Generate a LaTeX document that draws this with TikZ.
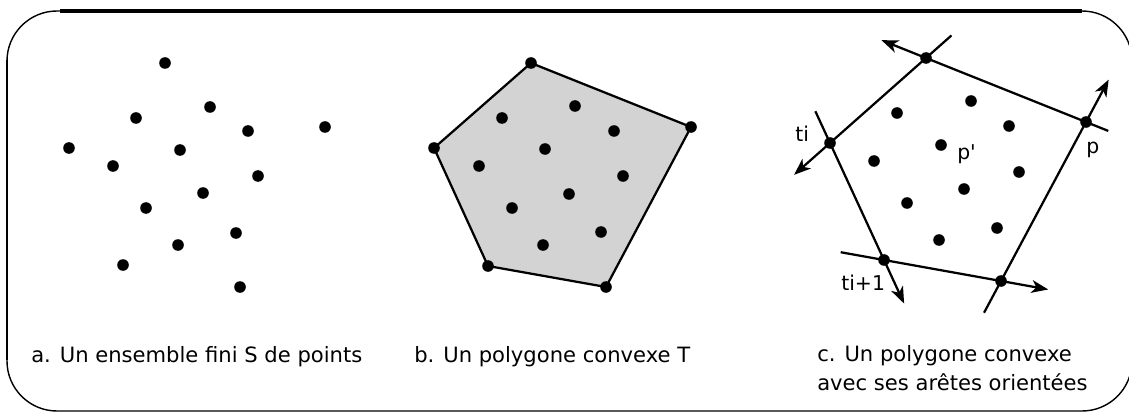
\documentclass[tikz,border=0pt]{standalone}
\usepackage{fontspec}
\setmainfont{DejaVu Sans}
\usepackage{tikz}
\usetikzlibrary{arrows.meta, calc, backgrounds}
\definecolor{hullgray}{RGB}{211,211,211}
\tikzset{
  dot/.style={circle, fill=black, inner sep=0pt, minimum size=0.29cm},
  hull/.style={fill=hullgray, draw=black, line width=1.6pt, line join=round},
  orient/.style={-{Stealth[length=0.42cm, width=0.32cm, inset=0.12cm]}, line width=1.6pt},
  caption/.style={anchor=base west, font=\fontsize{15}{20}\selectfont, align=left, inner sep=0pt},
  tag/.style={anchor=base west, font=\fontsize{14.5}{17}\selectfont, inner sep=0pt}
}

\begin{document}
\begin{tikzpicture}[x=0.025cm, y=-0.025cm]
  \useasboundingbox (0,0) rectangle (1129,413);

  % Frame
  \draw[line width=1pt, rounded corners=1.25cm] (7,11) rectangle (1132,411);
  \draw[line width=2.2pt] (60,11) -- (1082,11);
  \draw[line width=2pt] (7,60) -- (7,360);

  % Panel a: the point set
  \node[dot] (a1) at (165,63) {};
  \node[dot] (a2) at (210,107) {};
  \node[dot] (a3) at (136,118) {};
  \node[dot] (a4) at (248,131) {};
  \node[dot] (a5) at (325,127) {};
  \node[dot] (a6) at (69,148) {};
  \node[dot] (a7) at (180,150) {};
  \node[dot] (a8) at (113,166) {};
  \node[dot] (a9) at (258,176) {};
  \node[dot] (a10) at (203,193) {};
  \node[dot] (a11) at (146,208) {};
  \node[dot] (a12) at (236,233) {};
  \node[dot] (a13) at (178,245) {};
  \node[dot] (a14) at (123,265) {};
  \node[dot] (a15) at (240,287) {};

  % Panel b: hull vertices
  \node[dot] (b1) at (531,63) {};
  \node[dot] (b2) at (691,127) {};
  \node[dot] (b3) at (606,287) {};
  \node[dot] (b4) at (488,266) {};
  \node[dot] (b5) at (434,148) {};
  \begin{scope}[on background layer]
    \draw[hull] (b1.center) -- (b2.center) -- (b3.center) -- (b4.center) -- (b5.center) -- cycle;
  \end{scope}
  % Panel b: inner points
  \node[dot] (b6) at (575,106) {};
  \node[dot] (b7) at (502,118) {};
  \node[dot] (b8) at (614,131) {};
  \node[dot] (b9) at (545,149) {};
  \node[dot] (b10) at (479,166) {};
  \node[dot] (b11) at (623,176) {};
  \node[dot] (b12) at (569,194) {};
  \node[dot] (b13) at (512,208) {};
  \node[dot] (b14) at (601,232) {};
  \node[dot] (b15) at (543,245) {};

  % Panel c: hull vertices
  \node[dot] (c1) at (926,58) {};
  \node[dot] (c2) at (1086,122) {};
  \node[dot] (c3) at (1001,281) {};
  \node[dot] (c4) at (884,260) {};
  \node[dot] (c5) at (830,143) {};
  % Panel c: inner points
  \node[dot] (c6) at (971,101) {};
  \node[dot] (c7) at (897,113) {};
  \node[dot] (c8) at (1009,126) {};
  \node[dot] (c9) at (941,145) {};
  \node[dot] (c10) at (874,161) {};
  \node[dot] (c11) at (1019,172) {};
  \node[dot] (c12) at (964,189) {};
  \node[dot] (c13) at (907,203) {};
  \node[dot] (c14) at (997,228) {};
  \node[dot] (c15) at (939,240) {};

  % Oriented edges
  \draw[orient] ($(c2)!-0.6cm!(c1)$) -- ($(c1)!-1.2cm!(c2)$);
  \draw[orient] ($(c1)!-0.85cm!(c5)$) -- ($(c5)!-1.2cm!(c1)$);
  \draw[orient] ($(c5)!-0.875cm!(c4)$) -- ($(c4)!-1.2cm!(c5)$);
  \draw[orient] ($(c4)!-1.1cm!(c3)$) -- ($(c3)!-1.2cm!(c4)$);
  \draw[orient] ($(c3)!-0.9cm!(c2)$) -- ($(c2)!-1.2cm!(c3)$);

  % Labels
  \node[tag] (ti) at (795,142) {ti};
  \node[tag] (tnext) at (841,290) {ti+1};
  \node[tag] (pp) at (957,159) {p\textquotesingle};
  \node[tag] (p) at (1086,154) {p};

  % Captions
  \node[caption] (capa) at (31,362) {a. Un ensemble fini S de points};
  \node[caption] (capb) at (414,362) {b. Un polygone convexe T};
  \node[caption] (capc) at (817,390) {c. Un polygone convexe\\avec ses arêtes orientées};
\end{tikzpicture}
\end{document}
